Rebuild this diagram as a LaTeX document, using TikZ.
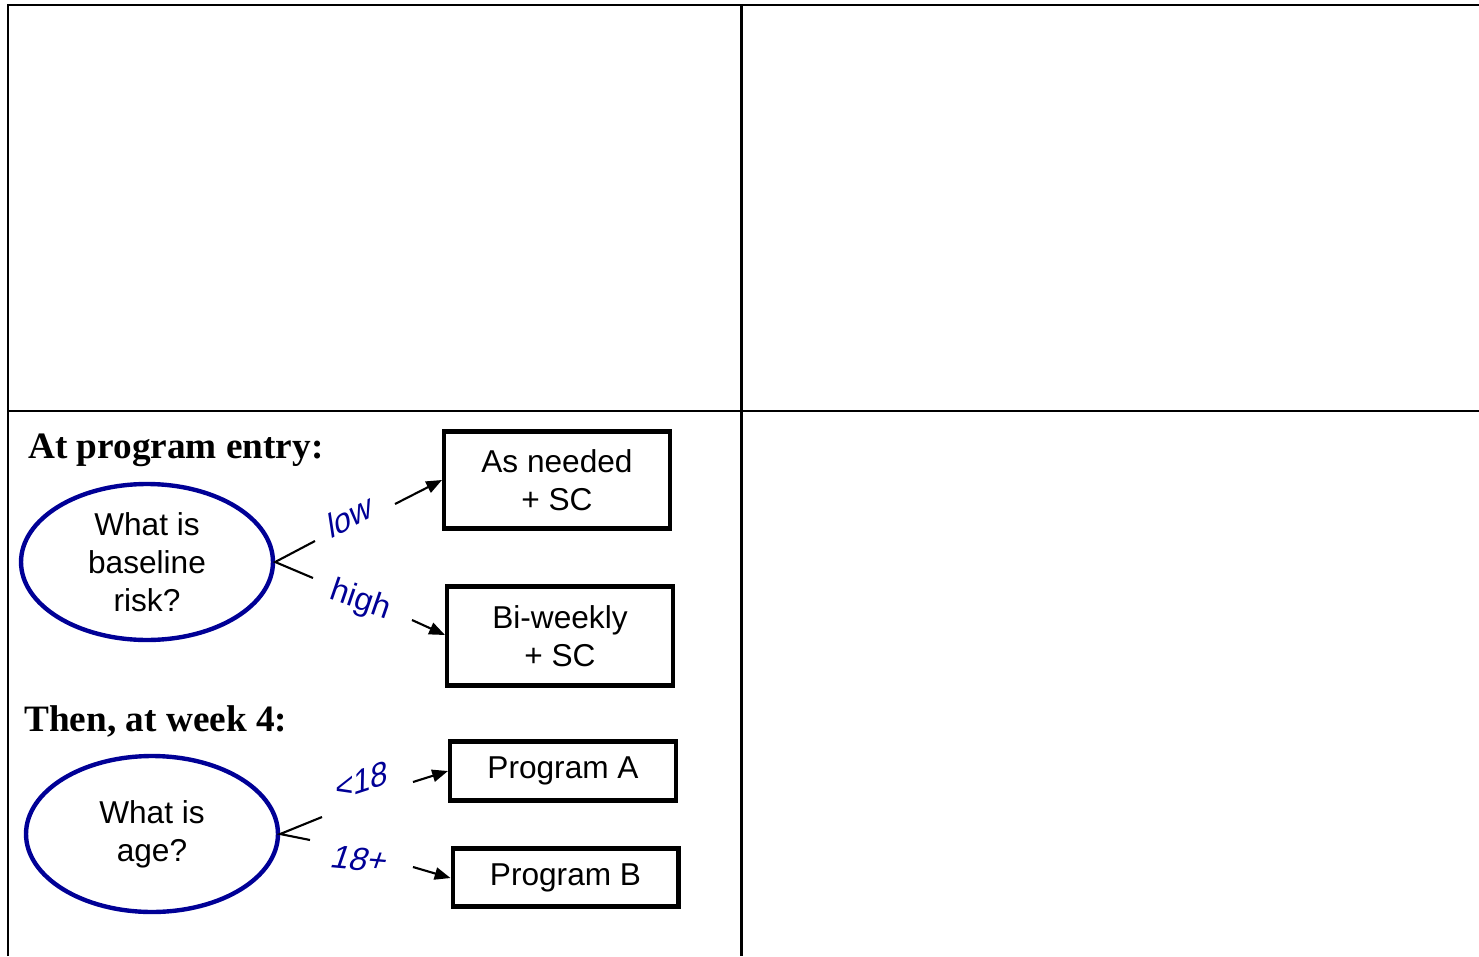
\documentclass[tikz,border=0pt]{standalone}
\usepackage{fontspec}
\setmainfont{Liberation Serif}
\setsansfont{Liberation Sans}
\usetikzlibrary{shapes.geometric, arrows.meta}
\definecolor{navy}{RGB}{0,0,150}

\begin{document}
\begin{tikzpicture}[x=0.02cm, y=-0.02cm,
        grid/.style={line width=1.7pt},
        question/.style={draw=navy, ellipse, line width=2.5pt, inner sep=0pt,
                         minimum width=5.04cm, minimum height=3.12cm,
                         align=center, font=\sffamily\fontsize{18}{21.5}\selectfont},
        choice/.style={draw, line width=2.3pt, inner sep=0pt, minimum width=4.52cm,
                       align=center, font=\sffamily\fontsize{18}{21.5}\selectfont},
        branch/.style={line width=1.2pt},
        pick/.style={line width=1.2pt, -{Triangle[length=9pt, width=7pt]}},
        answer/.style={text=navy, inner sep=0pt, font=\sffamily\fontsize{18.5}{22}\selectfont},
        heading/.style={anchor=base west, inner sep=0pt,
                        font=\bfseries\fontsize{21.2}{25}\selectfont}]
      \useasboundingbox (0,0) rectangle (1479,956);
      % table lines
      \draw[grid] (8,956) -- (8,5) -- (1479,5);
      \draw[grid] (741,5) -- (741,956);
      \draw[grid] (8,411) -- (1479,411);

      \node[heading] (entry) at (28,458) {At program entry:};
      \node[heading] (week)  at (24,731) {Then, at week 4:};

      \node[question] (risk) at (147,562) {What is\\baseline\\risk?};
      \node[question] (age)  at (152,834) {What is\\age?};

      \node[choice, minimum height=1.94cm] (asneeded) at (557,480) {As needed\\+ SC};
      \node[choice, minimum height=1.98cm] (biweekly) at (560,636) {Bi-weekly\\+ SC};
      \node[choice, minimum height=1.18cm] (proga)    at (563,771) {Program A};
      \node[choice, minimum height=1.16cm] (progb)    at (565.5,877.5) {Program B};

      \node[answer, rotate=28, xslant=0.35]  (low)   at (350,516) {low};
      \node[answer, rotate=-19]              (high)  at (360,601) {high};
      \node[answer, rotate=18, xslant=0.35]  (young) at (362,781) {<18};
      \node[answer, rotate=-5, xslant=0.25]  (adult) at (360,859) {18+};

      \coordinate (lowa) at (315,541);  \coordinate (lowb) at (395,504);
      \coordinate (higha) at (313,578); \coordinate (highb) at (412,620);
      \coordinate (younga) at (322,817); \coordinate (youngb) at (413,782);
      \coordinate (adulta) at (310,840); \coordinate (adultb) at (413,867);

      \draw[branch] (lowa) -- (risk.east) -- (higha);
      \draw[branch] (younga) -- (age.east) -- (adulta);
      \draw[pick] (lowb) -- (asneeded.west |- 0,480);
      \draw[pick] (highb) -- (biweekly.west |- 0,635);
      \draw[pick] (youngb) -- (proga.west |- 0,771);
      \draw[pick] (adultb) -- (progb.west |- 0,878);
    \end{tikzpicture}
\end{document}
